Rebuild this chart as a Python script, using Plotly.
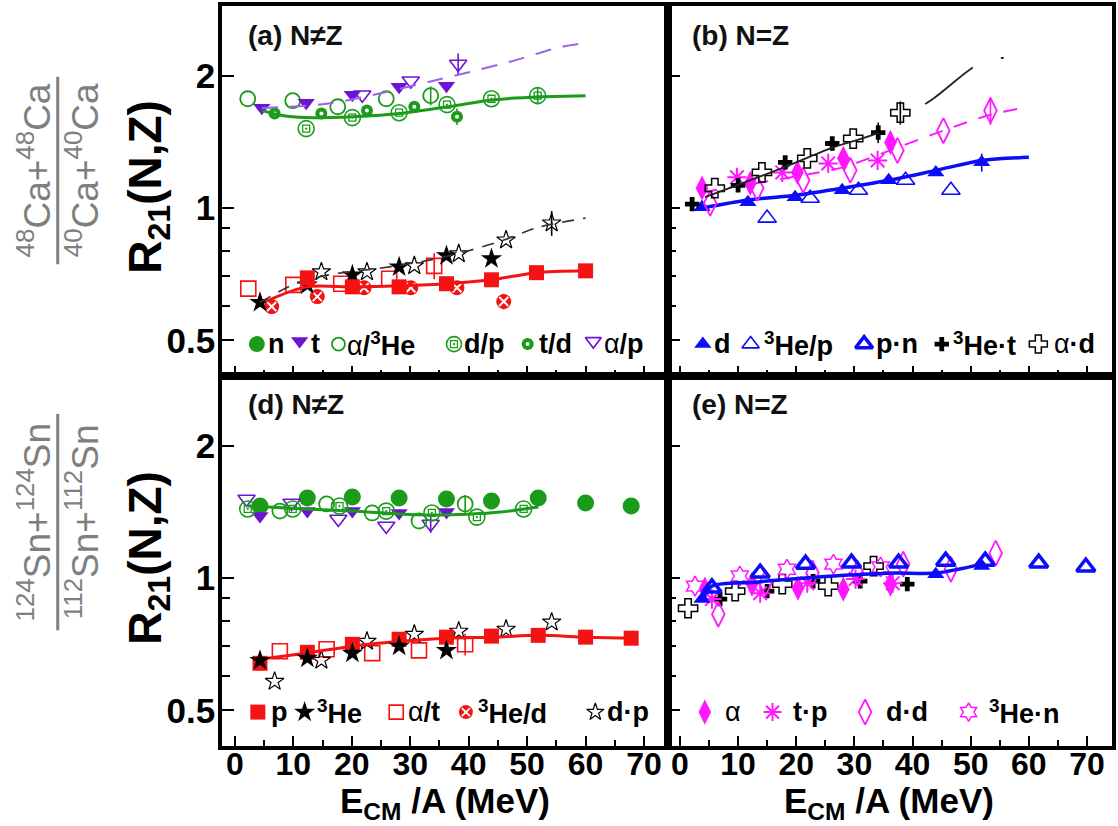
import plotly.graph_objects as go
from plotly.subplots import make_subplots

# ------------------------------------------------------------------ data
# panel (a): 48Ca+48Ca / 40Ca+40Ca, N != Z
a_td_x = [6.8, 14.8, 22.6, 30.7, 38.0]
a_td_y = [1.641, 1.641, 1.667, 1.701, 1.615]
a_td_err = [0, 0, 0, 0, 0.07]
a_dp_x = [12.2, 20.1, 28.1, 36.3, 43.9, 51.8]
a_dp_y = [1.517, 1.607, 1.649, 1.72, 1.774, 1.803]
a_dp_err = [0, 0, 0, 0, 0, 0.08]
a_a3he_x = [2.2, 9.9, 17.6, 25.9, 33.5]
a_a3he_y = [1.774, 1.756, 1.701, 1.774, 1.803]
a_a3he_err = [0, 0, 0, 0, 0.09]
a_t_x = [4.6, 12.2, 20.1, 28.1, 36.2]
a_t_y = [1.693, 1.738, 1.811, 1.888, 1.898]
a_ap_x = [21.8, 30.1, 38.2]
a_ap_y = [1.811, 1.949, 2.129]
a_ap_err = [0, 0, 0.12]
a_green_fit_x = [4.7, 8.1, 12.1, 20.2, 28.3, 36.4, 44.4, 52.5, 60.0]
a_green_fit_y = [1.667, 1.624, 1.607, 1.615, 1.641, 1.701, 1.765, 1.793, 1.803]
a_purple_fit_x = [4.6, 15.7, 25.9, 33.3, 39.5, 47.4, 55.4, 60.0]
a_purple_fit_y = [1.69, 1.727, 1.838, 1.94, 2.03, 2.16, 2.32, 2.375]

a_p_x = [12.4, 20.1, 28.1, 36.2, 43.9, 51.6, 60.0]
a_p_y = [0.694, 0.662, 0.662, 0.673, 0.687, 0.713, 0.720]
a_red_fit_x = [5.2, 12.2, 20.1, 28.1, 36.2, 43.9, 51.6, 60.0]
a_red_fit_y = [0.613, 0.662, 0.662, 0.666, 0.673, 0.687, 0.713, 0.720]
a_at_x = [2.3, 10.0, 18.2, 26.4, 34.1]
a_at_y = [0.656, 0.669, 0.673, 0.691, 0.739]
a_at_err = [0, 0, 0, 0, 0.05]
a_3hed_x = [6.3, 14.1, 22.1, 30.1, 38.0, 46.0]
a_3hed_y = [0.597, 0.629, 0.659, 0.659, 0.659, 0.613]
a_3hed_err = [0, 0, 0, 0, 0, 0.025]
a_3he_x = [4.3, 12.4, 20.1, 28.1, 36.2, 43.9]
a_3he_y = [0.61, 0.669, 0.705, 0.735, 0.779, 0.767]
a_dpp_x = [14.8, 22.6, 30.7, 38.3, 46.4, 54.2]
a_dpp_y = [0.716, 0.716, 0.739, 0.787, 0.846, 0.925]
a_dpp_err = [0, 0, 0, 0, 0, 0.06]
a_black_fit_x = [4.3, 10, 16, 22, 28, 34, 40, 46, 52, 60]
a_black_fit_y = [0.61, 0.67, 0.705, 0.722, 0.74, 0.765, 0.80, 0.846, 0.905, 0.949]

# panel (b): 48Ca / 40Ca, N = Z
b_3het_x = [2.1, 10.0, 18.1, 26.2, 34.1]
b_3het_y = [1.021, 1.127, 1.271, 1.403, 1.486]
b_3het_err = [0, 0, 0, 0, 0.08]
b_ad_x = [6.0, 14.1, 21.9, 29.8, 37.9]
b_ad_y = [1.110, 1.206, 1.298, 1.440, 1.649]
b_ad_err = [0, 0, 0, 0, 0.1]
b_black_fit_x = [4.3, 10, 18, 26, 34.1, 43.3, 51.4, 56.6]
b_black_fit_y = [1.059, 1.13, 1.24, 1.37, 1.486, 1.765, 2.129, 2.208]
b_alpha_x = [3.8, 12.1, 20.2, 28.1, 36.2]
b_alpha_y = [1.110, 1.139, 1.206, 1.298, 1.411]
b_tp_x = [9.8, 17.6, 25.5, 34.0]
b_tp_y = [1.175, 1.206, 1.264, 1.284]
b_dd_x = [5.2, 13.3, 21.2, 29.3, 37.4, 45.3, 53.4]
b_dd_y = [1.026, 1.110, 1.157, 1.219, 1.353, 1.501, 1.667]
b_dd_err = [0, 0, 0, 0, 0, 0, 0.12]
b_mag_fit_x = [4.0, 12, 20, 28, 37.4, 45.3, 53.4, 60]
b_mag_fit_y = [1.087, 1.133, 1.181, 1.238, 1.374, 1.501, 1.632, 1.701]
b_d_x = [3.8, 11.7, 19.8, 27.9, 35.9, 44.0, 51.9]
b_d_y = [1.005, 1.032, 1.059, 1.098, 1.157, 1.206, 1.271]
b_d_err = [0, 0, 0, 0, 0, 0, 0.06]
b_3hep_x = [15.0, 22.4, 30.7, 38.8, 46.6]
b_3hep_y = [0.949, 1.053, 1.098, 1.157, 1.098]
b_blue_fit_x = [3.8, 11.7, 19.8, 27.9, 35.9, 44, 51.9, 60]
b_blue_fit_y = [1.0, 1.043, 1.070, 1.110, 1.157, 1.219, 1.284, 1.305]

# panel (d): 124Sn / 112Sn, N != Z
d_n_x = [4.3, 12.4, 20.1, 28.1, 36.2, 43.9, 51.9, 60.0, 67.8]
d_n_y = [1.459, 1.522, 1.530, 1.522, 1.514, 1.498, 1.522, 1.483, 1.459]
d_t_x = [4.3, 12.4, 20.1, 28.1, 36.2]
d_t_y = [1.385, 1.421, 1.421, 1.407, 1.414]
d_ap_x = [2.0, 9.7, 17.7, 25.9, 33.5]
d_ap_y = [1.514, 1.483, 1.363, 1.314, 1.328]
d_ap_err = [0, 0, 0, 0, 0.06]
d_a3he_x = [7.7, 15.7, 23.5, 31.5, 39.4]
d_a3he_y = [1.421, 1.475, 1.407, 1.349, 1.475]
d_a3he_err = [0, 0, 0, 0, 0.07]
d_dp_x = [2.2, 9.9, 17.9, 25.9, 33.7, 41.4, 49.4]
d_dp_y = [1.437, 1.437, 1.459, 1.421, 1.407, 1.377, 1.437]
d_green_fit_x = [2.2, 12.1, 20.2, 28.3, 33.3, 40.4, 45.5, 51.9]
d_green_fit_y = [1.459, 1.437, 1.421, 1.399, 1.392, 1.399, 1.414, 1.451]
d_p_x = [4.3, 12.4, 20.1, 28.1, 36.2, 43.9, 51.9, 60.0, 67.8]
d_p_y = [0.640, 0.678, 0.707, 0.726, 0.734, 0.738, 0.741, 0.734, 0.730]
d_red_fit_x = [4.3, 12.1, 20.2, 28.3, 36.4, 44.4, 51.9, 60.0, 67.8]
d_red_fit_y = [0.654, 0.675, 0.700, 0.718, 0.730, 0.734, 0.741, 0.734, 0.730]
d_3he_x = [4.3, 12.4, 20.1, 28.1, 36.2]
d_3he_y = [0.650, 0.657, 0.675, 0.700, 0.685]
d_at_x = [7.7, 15.7, 23.5, 31.5, 39.4]
d_at_y = [0.682, 0.689, 0.675, 0.685, 0.707]
d_at_err = [0, 0, 0, 0, 0.04]
d_dpp_x = [6.8, 14.8, 22.6, 30.7, 38.3, 46.4, 54.2]
d_dpp_y = [0.582, 0.650, 0.718, 0.745, 0.757, 0.765, 0.794]

# panel (e): 124Sn / 112Sn, N = Z
e_pn_x = [5.5, 13.8, 21.6, 29.5, 37.6, 45.7, 52.5, 61.7, 69.8]
e_pn_y = [0.95, 1.027, 1.076, 1.082, 1.082, 1.093, 1.093, 1.082, 1.060]
e_d_x = [3.8, 44.0, 51.9]
e_d_y = [0.896, 1.021, 1.065]
e_blue_fit_x = [3.8, 5.5, 13, 21, 29, 37, 44, 52]
e_blue_fit_y = [0.896, 0.959, 0.979, 1.0, 1.016, 1.027, 1.027, 1.076]
e_3hen_x = [2.6, 10.3, 18.4, 26.4, 34.5]
e_3hen_y = [0.959, 1.011, 1.048, 1.076, 1.06]
e_dd_x = [6.6, 14.7, 22.8, 30.5, 38.4, 46.6, 54.3]
e_dd_y = [0.828, 0.974, 1.027, 1.027, 1.076, 1.048, 1.140]
e_alpha_x = [4.3, 12.4, 20.3, 28.1, 36.2]
e_alpha_y = [0.944, 0.969, 0.949, 0.944, 0.969]
e_tp_x = [5.5, 13.8, 21.9, 30.2, 36.6]
e_tp_y = [0.896, 0.924, 0.974, 0.995, 0.974]
e_ad_x = [1.4, 9.5, 17.6, 25.5, 33.3]
e_ad_y = [0.854, 0.934, 0.969, 0.959, 1.065]
e_3het_x = [6.9, 15.0, 22.9, 31.0, 39.1]
e_3het_y = [0.896, 0.934, 0.984, 0.984, 0.969]

x_ticks = [0, 10, 20, 30, 40, 50, 60, 70]
y_ticks = [0.5, 1, 2]
y_tick_text = ["0.5", "1", "2"]
y_minor = [0.6, 0.7, 0.8, 0.9]

# ------------------------------------------------------------------ style
GREEN = "#1a9c1a"
PURPLE = "#6c14d2"
PURPLE_L = "#9b62ee"
RED = "#f41212"
BLUE = "#0c0cf8"
MAG = "#ff18ff"
BLK = "#000000"
FONT = "Liberation Sans, Arial, sans-serif"

W, H = 1118, 826
ML, MR, MT, MB = 222, 2, 4, 80
PW, PH = W - ML - MR, H - MT - MB

fig = make_subplots(rows=2, cols=2, horizontal_spacing=0, vertical_spacing=0)


def mk(x, y, r, c, symbol, color, size, lw=1.5, err=None, lc=None, fill=None):
    kw = {}
    if err is not None:
        kw["error_y"] = dict(type="data", array=err, visible=True, thickness=1.6,
                             width=0, color=color)
    fig.add_trace(go.Scatter(
        x=x, y=y, mode="markers", showlegend=False, hoverinfo="skip",
        marker=dict(symbol=symbol, size=size, color=fill or color,
                    line=dict(color=lc or color, width=lw)), **kw), row=r, col=c)


def ln(x, y, r, c, color, width, dash="solid"):
    fig.add_trace(go.Scatter(
        x=x, y=y, mode="lines", showlegend=False, hoverinfo="skip",
        line=dict(color=color, width=width, dash=dash, shape="spline", smoothing=0.8)),
        row=r, col=c)


def dp_marker(x, y, r, c, err=None):
    mk(x, y, r, c, "circle-open", GREEN, 16, 1.6, err=err)
    mk(x, y, r, c, "square-open-dot", GREEN, 7, 1.3)


def td_marker(x, y, r, c, err=None):
    mk(x, y, r, c, "circle", GREEN, 12, 0, err=err)
    mk(x, y, r, c, "circle", "white", 4, 0)


def hed_marker(x, y, r, c, err=None):
    mk(x, y, r, c, "circle", RED, 15, 0, err=err)
    mk(x, y, r, c, "x-thin-open", "white", 9, 2)


# ---- panel (a)
mk(a_a3he_x, a_a3he_y, 1, 1, "circle-open", GREEN, 15, 1.8, err=a_a3he_err)
dp_marker(a_dp_x, a_dp_y, 1, 1, err=a_dp_err)
td_marker(a_td_x, a_td_y, 1, 1, err=a_td_err)
mk(a_t_x, a_t_y, 1, 1, "triangle-down", PURPLE, 15, 0)
mk(a_ap_x, a_ap_y, 1, 1, "triangle-down-open", PURPLE, 15, 1.6, err=a_ap_err)
ln(a_green_fit_x, a_green_fit_y, 1, 1, GREEN, 3)
ln(a_purple_fit_x, a_purple_fit_y, 1, 1, PURPLE_L, 2, "16px,12px")
mk(a_at_x, a_at_y, 1, 1, "square-open", RED, 15, 1.6, err=a_at_err)
hed_marker(a_3hed_x, a_3hed_y, 1, 1, err=a_3hed_err)
mk(a_3he_x, a_3he_y, 1, 1, "star", BLK, 16, 0)
mk(a_dpp_x, a_dpp_y, 1, 1, "star-open", BLK, 14, 1.2, err=a_dpp_err)
ln(a_black_fit_x, a_black_fit_y, 1, 1, "#333333", 1.6, "12px,9px")
mk(a_p_x, a_p_y, 1, 1, "square", RED, 15, 0)
ln(a_red_fit_x, a_red_fit_y, 1, 1, RED, 3)

# ---- panel (b)
mk(b_3hep_x, b_3hep_y, 1, 2, "triangle-up-open", BLUE, 16, 1.6)
mk(b_d_x, b_d_y, 1, 2, "triangle-up", BLUE, 15, 0, err=b_d_err)
ln(b_blue_fit_x, b_blue_fit_y, 1, 2, BLUE, 3.5)
mk(b_dd_x, b_dd_y, 1, 2, "diamond-tall-open", MAG, 18, 1.8, err=b_dd_err)
mk(b_alpha_x, b_alpha_y, 1, 2, "diamond-tall", MAG, 18, 0)
mk(b_tp_x, b_tp_y, 1, 2, "asterisk-open", MAG, 16, 2)
ln(b_mag_fit_x, b_mag_fit_y, 1, 2, MAG, 2, "14px,12px")
mk(b_ad_x, b_ad_y, 1, 2, "cross-open", BLK, 16, 1.5, err=b_ad_err)
mk(b_3het_x, b_3het_y, 1, 2, "cross", BLK, 12, 0, err=b_3het_err)
ln(b_black_fit_x, b_black_fit_y, 1, 2, "#222222", 1.8, "185px,55px,60px,30px,3px,200px")

# ---- panel (d)
mk(d_n_x, d_n_y, 2, 1, "circle", GREEN, 17, 0)
mk(d_t_x, d_t_y, 2, 1, "triangle-down", PURPLE, 15, 0)
mk(d_ap_x, d_ap_y, 2, 1, "triangle-down-open", PURPLE, 15, 1.6, err=d_ap_err)
mk(d_a3he_x, d_a3he_y, 2, 1, "circle-open", GREEN, 15, 1.8, err=d_a3he_err)
dp_marker(d_dp_x, d_dp_y, 2, 1)
ln(d_green_fit_x, d_green_fit_y, 2, 1, GREEN, 3)
mk(d_at_x, d_at_y, 2, 1, "square-open", RED, 15, 1.6, err=d_at_err)
mk(d_dpp_x, d_dpp_y, 2, 1, "star-open", BLK, 14, 1.2)
mk(d_p_x, d_p_y, 2, 1, "square", RED, 15, 0)
ln(d_red_fit_x, d_red_fit_y, 2, 1, RED, 3)
mk(d_3he_x, d_3he_y, 2, 1, "star", BLK, 16, 0)

# ---- panel (e)
mk(e_ad_x, e_ad_y, 2, 2, "cross-open", BLK, 16, 1.5)
mk(e_3het_x, e_3het_y, 2, 2, "cross", BLK, 12, 0)
mk(e_3hen_x, e_3hen_y, 2, 2, "hexagram-open", MAG, 15, 1.5)
mk(e_dd_x, e_dd_y, 2, 2, "diamond-tall-open", MAG, 18, 1.8)
mk(e_alpha_x, e_alpha_y, 2, 2, "diamond-tall", MAG, 18, 0)
mk(e_tp_x, e_tp_y, 2, 2, "asterisk-open", MAG, 16, 2)
mk(e_d_x, e_d_y, 2, 2, "triangle-up", BLUE, 15, 0)
mk(e_pn_x, e_pn_y, 2, 2, "triangle-up-open", BLUE, 16, 3.5)
ln(e_blue_fit_x, e_blue_fit_y, 2, 2, BLUE, 3.5)

# ------------------------------------------------------------------ axes
axis_common = dict(showline=True, linewidth=3.5, linecolor="black", mirror=True,
                   ticks="inside", tickwidth=2, tickcolor="black",
                   showgrid=False, zeroline=False)
x_dom = {1: [0, 448 / PW], 2: [448 / PW, 1]}
y_dom = {1: [0.5, 1], 2: [0, 0.5]}
x_rng = {1: [-2.2, 74.1], 2: [-2.05, 74.3]}
for r in (1, 2):
    for c in (1, 2):
        fig.update_xaxes(axis_common, row=r, col=c, range=x_rng[c], domain=x_dom[c],
                         tickmode="array", tickvals=x_ticks, ticklen=10,
                         minor=dict(dtick=5, tick0=0, ticklen=6, ticks="inside",
                                    tickwidth=2, tickcolor="black"),
                         showticklabels=(r == 2), ticklabelstandoff=-13,
                         tickfont=dict(family=FONT, size=32, color="black", weight="bold"))
        fig.update_yaxes(axis_common, row=r, col=c, type="log", range=[-0.382, 0.46],
                         domain=y_dom[r], tickmode="array", tickvals=y_ticks,
                         ticktext=y_tick_text, ticklen=12, ticklabelstandoff=-4,
                         minor=dict(tickmode="array", tickvals=y_minor, ticklen=8,
                                    ticks="inside", tickwidth=2, tickcolor="black"),
                         showticklabels=(c == 1),
                         tickfont=dict(family=FONT, size=35, color="black", weight="bold"))

# overlay axis in pixel coordinates for legend glyphs
fig.update_layout(
    xaxis5=dict(domain=[0, 1], range=[ML, W - MR], visible=False, anchor="y5",
                fixedrange=True),
    yaxis5=dict(domain=[0, 1], range=[H - MB, MT], visible=False, anchor="x5",
                fixedrange=True),
)

# ------------------------------------------------------------------ legends
legend_glyphs = [
    # (px, py, symbol, color, size, line width)
    (257, 343, "circle", GREEN, 16, 0),
    (300, 340, "triangle-down", PURPLE, 15, 0),
    (339, 343, "circle-open", GREEN, 13, 1.8),
    (455, 343, "circle-open", GREEN, 15, 1.6),
    (455, 343, "square-open-dot", GREEN, 7, 1.3),
    (529, 343, "circle", GREEN, 12, 0),
    (529, 343, "circle", "white", 4, 0),
    (595, 340, "triangle-down-open", PURPLE, 14, 1.6),
    (705, 343, "triangle-up", BLUE, 15, 0),
    (753, 343, "triangle-up-open", BLUE, 15, 1.6),
    (867, 343, "triangle-up-open", BLUE, 15, 3.5),
    (945, 343, "cross", BLK, 12, 0),
    (1042, 343, "cross-open", BLK, 15, 1.5),
    (258, 712, "square", RED, 15, 0),
    (305, 712, "star", BLK, 16, 0),
    (397, 712, "square-open", RED, 14, 1.6),
    (467, 712, "circle", RED, 14, 0),
    (467, 712, "x-thin-open", "white", 8, 2),
    (597, 712, "star-open", BLK, 13, 1.2),
    (707, 712, "diamond-tall", MAG, 18, 0),
    (775, 712, "asterisk-open", MAG, 15, 2),
    (868, 712, "diamond-tall-open", MAG, 18, 1.8),
    (972, 712, "hexagram-open", MAG, 14, 1.5),
]
for px, py, sym, col, sz, lw in legend_glyphs:
    fig.add_trace(go.Scatter(x=[px], y=[py], xaxis="x5", yaxis="y5", mode="markers",
                             showlegend=False, hoverinfo="skip",
                             marker=dict(symbol=sym, size=sz, color=col,
                                         line=dict(color=col, width=lw))))

legend_texts = [
    (266, 343, "<b>n</b>"),
    (309, 343, "<b>t</b>"),
    (346, 343, "α<b>/<sup>3</sup>He</b>"),
    (463, 343, "<b>d/p</b>"),
    (538, 343, "<b>t/d</b>"),
    (604, 343, "α<b>/p</b>"),
    (714, 343, "<b>d</b>"),
    (764, 343, "<b><sup>3</sup>He/p</b>"),
    (877, 343, "<b>p·n</b>"),
    (954, 343, "<b><sup>3</sup>He·t</b>"),
    (1056, 343, "α<b>·d</b>"),
    (269, 712, "<b>p</b>"),
    (315, 712, "<b><sup>3</sup>He</b>"),
    (407, 712, "α<b>/t</b>"),
    (477, 712, "<b><sup>3</sup>He/d</b>"),
    (607, 712, "<b>d·p</b>"),
    (725, 712, "α"),
    (794, 712, "<b>t·p</b>"),
    (887, 712, "<b>d·d</b>"),
    (990, 712, "<b><sup>3</sup>He·n</b>"),
]


def X(px):
    return (px - ML) / PW


def Y(py):
    return (H - MB - py) / PH


ann = []
for px, py, txt in legend_texts:
    ann.append(dict(x=X(px), y=Y(py), xref="paper", yref="paper", text=txt,
                    showarrow=False, xanchor="left", yanchor="middle",
                    font=dict(family=FONT, size=27, color="black")))

# panel labels
for px, py, txt in [(246, 34, "(a) N≠Z"), (692, 34, "(b) N=Z"),
                    (246, 404, "(d) N≠Z"), (692, 404, "(e) N=Z")]:
    ann.append(dict(x=X(px), y=Y(py), xref="paper", yref="paper", text=txt,
                    showarrow=False, xanchor="left", yanchor="middle",
                    font=dict(family=FONT, size=28, color="#111111", weight="bold")))

# axis titles
for px in (446, 892):
    ann.append(dict(x=X(px), y=Y(803), xref="paper", yref="paper",
                    text="E<sub>CM</sub> /A (MeV)", showarrow=False,
                    xanchor="center", yanchor="middle",
                    font=dict(family=FONT, size=35, color="black", weight="bold")))
for py in (185, 557):
    ann.append(dict(x=X(148), y=Y(py), xref="paper", yref="paper",
                    text="R<sub>21</sub>(N,Z)", showarrow=False, textangle=-90,
                    xanchor="center", yanchor="middle",
                    font=dict(family=FONT, size=46, color="black", weight="bold")))

GRAY = "#7f7f7f"
fractions = [
    (169, "<sup>48</sup>Ca+<sup>48</sup>Ca", "<sup>40</sup>Ca+<sup>40</sup>Ca", 75, 263),
    (521, "<sup>124</sup>Sn+<sup>124</sup>Sn", "<sup>112</sup>Sn+<sup>112</sup>Sn", 413, 630),
]
shapes = []
for cy, num, den, y0, y1 in fractions:
    ann.append(dict(x=X(34), y=Y(cy), xref="paper", yref="paper", text=num,
                    showarrow=False, textangle=-90, xanchor="center", yanchor="middle",
                    font=dict(family=FONT, size=37, color=GRAY)))
    ann.append(dict(x=X(82), y=Y(cy), xref="paper", yref="paper", text=den,
                    showarrow=False, textangle=-90, xanchor="center", yanchor="middle",
                    font=dict(family=FONT, size=37, color=GRAY)))
    shapes.append(dict(type="line", xref="paper", yref="paper", x0=X(57), x1=X(57),
                       y0=Y(y0), y1=Y(y1), line=dict(color=GRAY, width=3)))

fig.update_layout(
    width=W, height=H,
    margin=dict(l=ML, r=MR, t=MT, b=MB),
    paper_bgcolor="white", plot_bgcolor="rgba(0,0,0,0)",
    showlegend=False,
    annotations=ann, shapes=shapes,
    font=dict(family=FONT),
)

fig.write_html("out.html", config={"displayModeBar": False},
               post_script="document.body.style.margin='0';document.body.style.overflow='hidden';")
